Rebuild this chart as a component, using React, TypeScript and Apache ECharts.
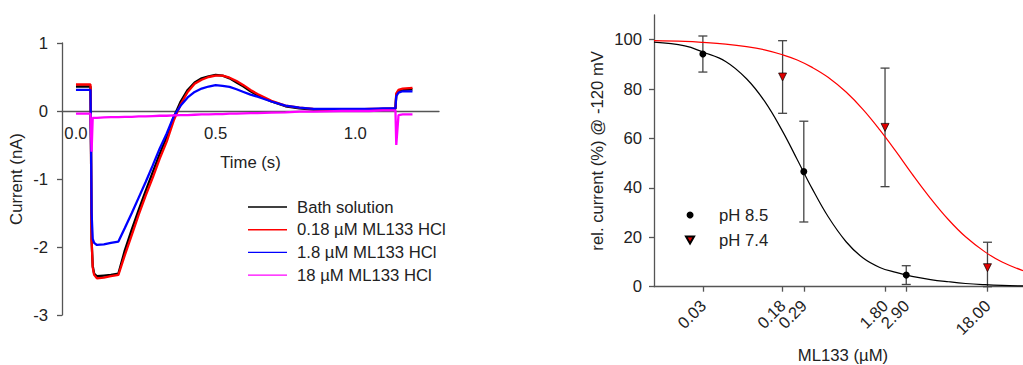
import React, { useEffect, useRef } from 'react';
import * as echarts from 'echarts';

// ---------- Left panel: current traces ----------
const timeS = [0, 0.052, 0.054, 0.056, 0.06, 0.065, 0.075, 0.1, 0.125, 0.152, 0.175, 0.2, 0.225, 0.25, 0.275, 0.3, 0.325, 0.35, 0.375, 0.4, 0.425, 0.45, 0.475, 0.5, 0.525, 0.55, 0.575, 0.6, 0.625, 0.65, 0.7, 0.75, 0.8, 0.85, 0.9, 0.95, 1.0, 1.05, 1.1, 1.144, 1.147, 1.155, 1.17, 1.205];
const bathSolution = [0.36, 0.36, -0.6, -1.9, -2.28, -2.39, -2.43, -2.42, -2.41, -2.39, -2.05, -1.74, -1.45, -1.17, -0.9, -0.63, -0.38, -0.09, 0.14, 0.31, 0.42, 0.48, 0.51, 0.53, 0.52, 0.48, 0.42, 0.36, 0.29, 0.23, 0.14, 0.07, 0.04, 0.02, 0.02, 0.02, 0.02, 0.02, 0.03, 0.03, 0.24, 0.29, 0.31, 0.32];
const ml133_018uM = [0.39, 0.39, -0.6, -1.9, -2.3, -2.41, -2.46, -2.45, -2.43, -2.41, -2.12, -1.82, -1.52, -1.24, -0.98, -0.7, -0.45, -0.14, 0.1, 0.28, 0.4, 0.46, 0.5, 0.52, 0.52, 0.49, 0.44, 0.38, 0.31, 0.25, 0.15, 0.08, 0.05, 0.03, 0.02, 0.02, 0.02, 0.03, 0.03, 0.04, 0.26, 0.31, 0.33, 0.34];
const ml133_1_8uM = [0.31, 0.31, -0.5, -1.5, -1.88, -1.94, -1.97, -1.96, -1.94, -1.92, -1.72, -1.5, -1.27, -1.04, -0.8, -0.55, -0.33, -0.08, 0.08, 0.2, 0.28, 0.33, 0.36, 0.38, 0.37, 0.355, 0.32, 0.28, 0.24, 0.21, 0.14, 0.08, 0.05, 0.03, 0.03, 0.03, 0.03, 0.03, 0.04, 0.04, 0.22, 0.27, 0.29, 0.29];
const ml133_18uM = [-0.04, -0.04, -0.3, -0.6, -0.1, -0.1, -0.1, -0.095, -0.09, -0.09, -0.085, -0.085, -0.08, -0.08, -0.075, -0.07, -0.07, -0.065, -0.06, -0.06, -0.055, -0.05, -0.05, -0.045, -0.045, -0.04, -0.04, -0.035, -0.03, -0.03, -0.025, -0.02, -0.01, -0.01, -0.005, 0, 0, 0, 0.01, 0.01, -0.5, -0.06, -0.05, -0.05];
const traceNames = ['Bath solution', '0.18 µM ML133 HCl', '1.8 µM ML133 HCl', '18 µM ML133 HCl'];
const traceColors = ['#000000', '#ff0000', '#0000ff', '#ff00ff'];
const traceValues = [bathSolution, ml133_018uM, ml133_1_8uM, ml133_18uM];
const timeTicks = [0, 0.5, 1.0];

// ---------- Right panel: dose response ----------
const concTicks = [0.03, 0.18, 0.29, 1.8, 2.9, 18];
const relTicks = [0, 20, 40, 60, 80, 100];

const ph85Conc = [0.03, 0.29, 2.9];
const ph85Mean = [94.2, 46.6, 4.7];
const ph85Low = [86.9, 26.2, 0.9];
const ph85High = [101.5, 67.0, 8.5];

const ph74Conc = [0.18, 1.8, 18];
const ph74Mean = [84.9, 64.5, 7.7];
const ph74Low = [70.2, 40.5, 0];
const ph74High = [99.6, 88.5, 18.0];

const fitConc = [0.01, 0.02, 0.03, 0.05, 0.08, 0.12, 0.18, 0.25, 0.35, 0.5, 0.75, 1.1, 1.6, 2.3, 3.3, 5, 7.5, 11, 17, 25, 40];
const fitPh85 = [99.0, 97.5, 95.0, 91.2, 84.2, 75.1, 62.9, 51.5, 39.7, 28.4, 18.2, 11.6, 7.8, 5.8, 4.2, 2.9, 2.0, 1.3, 0.8, 0.5, 0.3];
const fitPh74 = [99.6, 99.3, 98.9, 98.2, 97.2, 95.9, 93.9, 91.8, 88.8, 84.8, 78.8, 71.7, 63.5, 54.8, 45.7, 35.8, 27.1, 20.2, 14.1, 10.0, 6.5];

const FONT = "'Liberation Sans', Arial, Helvetica, sans-serif";
const FS = 16.7;
const TXT = '#222';
const AX = '#555';

const lg = (c: number) => Math.log10(c);

function errorBarSeries(conc: number[], low: number[], high: number[]) {
  return {
    type: 'custom',
    xAxisIndex: 1,
    yAxisIndex: 1,
    z: 2,
    silent: true,
    encode: { x: 0, y: [1, 2] },
    data: conc.map((c, i) => [lg(c), low[i], high[i]]),
    renderItem: (_p: any, api: any) => {
      const x = api.value(0);
      const lo = api.coord([x, api.value(1)]);
      const hi = api.coord([x, api.value(2)]);
      const w = 4.5;
      const style = { stroke: '#444', lineWidth: 1.3, fill: 'none' };
      return {
        type: 'group',
        children: [
          { type: 'line', shape: { x1: lo[0], y1: lo[1], x2: hi[0], y2: hi[1] }, style },
          { type: 'line', shape: { x1: lo[0] - w, y1: lo[1], x2: lo[0] + w, y2: lo[1] }, style },
          { type: 'line', shape: { x1: hi[0] - w, y1: hi[1], x2: hi[0] + w, y2: hi[1] }, style },
        ],
      };
    },
  };
}

export default function App() {
  const ref = useRef<HTMLDivElement>(null);
  useEffect(() => {
    const chart = echarts.init(ref.current!, null, { renderer: 'svg' });
    const option: any = {
      animation: false,
      textStyle: { fontFamily: FONT, color: TXT },
      grid: [
        { left: 62, top: 43, width: 377, height: 272, outerBoundsMode: 'none', containLabel: false },
        { left: 654, top: 15, width: 369, height: 271.7, outerBoundsMode: 'none', containLabel: false },
      ],
      xAxis: [
        {
          gridIndex: 0,
          type: 'value',
          min: -0.05,
          max: 1.3,
          position: 'bottom',
          offset: -204,
          splitLine: { show: false },
          axisLine: { show: true, onZero: false, lineStyle: { color: AX, width: 1.3 } },
          axisTick: { show: false },
          axisLabel: {
            customValues: timeTicks,
            formatter: (v: number) => v.toFixed(1),
            fontSize: FS,
            color: TXT,
            margin: 14,
          },
          name: 'Time (s)',
          nameLocation: 'middle',
          nameGap: 43,
          nameMoveOverlap: false,
          nameTextStyle: { fontSize: FS, color: TXT },
        },
        {
          gridIndex: 1,
          type: 'value',
          min: -2,
          max: lg(40),
          splitLine: { show: false },
          axisLine: { show: true, onZero: false, lineStyle: { color: AX, width: 1.3 } },
          axisTick: { show: true, customValues: concTicks.map((c) => lg(c)), length: 5, lineStyle: { color: AX, width: 1.3 } },
          axisLabel: {
            customValues: concTicks.map((c) => lg(c)),
            formatter: (v: number) => Math.pow(10, v).toFixed(2),
            rotate: 45,
            margin: 16,
            fontSize: 16.5,
            color: TXT,
          },
          name: 'ML133 (µM)',
          nameLocation: 'middle',
          nameGap: 60,
          nameMoveOverlap: false,
          nameTextStyle: { fontSize: FS, color: TXT, padding: [0, 0, 0, 9] },
        },
      ],
      yAxis: [
        {
          gridIndex: 0,
          type: 'value',
          min: -3,
          max: 1,
          interval: 1,
          splitLine: { show: false },
          axisLine: { show: true, onZero: false, lineStyle: { color: AX, width: 1.3 } },
          axisTick: { show: true, length: 5, lineStyle: { color: AX, width: 1.3 } },
          axisLabel: { fontSize: FS, color: TXT, margin: 14 },
          name: 'Current (nA)',
          nameLocation: 'middle',
          nameGap: 37,
          nameMoveOverlap: false,
          nameTextStyle: { fontSize: FS, color: TXT },
        },
        {
          gridIndex: 1,
          type: 'value',
          min: 0,
          max: 110,
          splitLine: { show: false },
          axisLine: { show: true, onZero: false, lineStyle: { color: AX, width: 1.3 } },
          axisTick: { show: true, customValues: relTicks, length: 5, lineStyle: { color: AX, width: 1.3 } },
          axisLabel: { customValues: relTicks, fontSize: FS, color: TXT, margin: 12 },
          name: 'rel. current (%) @ -120 mV',
          nameLocation: 'middle',
          nameGap: 48,
          nameMoveOverlap: false,
          nameTextStyle: { fontSize: FS, color: TXT },
        },
      ],
      legend: [
        {
          data: traceNames.map((name) => ({ name, icon: 'rect' })),
          orient: 'vertical',
          left: 243,
          top: 193,
          itemWidth: 39,
          itemHeight: 1.4,
          itemGap: 4.7,
          textStyle: { fontSize: FS, color: TXT, lineHeight: 18, padding: [0, 0, 0, 5] },
        },
        {
          data: [
            { name: 'pH 8.5', icon: 'circle' },
            { name: 'pH 7.4', icon: 'path://M0,0L10,0L5,8.66Z' },
          ],
          orient: 'vertical',
          left: 680,
          top: 201,
          itemWidth: 48,
          itemHeight: 7,
          itemGap: 7,
          symbolKeepAspect: true,
          textStyle: { fontSize: FS, color: TXT, lineHeight: 18 },
        },
      ],
      series: [
        ...traceNames.map((name, k) => ({
          name,
          type: 'line',
          xAxisIndex: 0,
          yAxisIndex: 0,
          symbol: 'none',
          showSymbol: false,
          z: 2 + k,
          lineStyle: { color: traceColors[k], width: 2.3 },
          itemStyle: { color: traceColors[k] },
          data: timeS.map((t, i) => [t, traceValues[k][i]]),
        })),
        errorBarSeries(ph85Conc, ph85Low, ph85High),
        errorBarSeries(ph74Conc, ph74Low, ph74High),
        {
          name: 'fit pH 8.5',
          type: 'line',
          xAxisIndex: 1,
          yAxisIndex: 1,
          symbol: 'none',
          smooth: 0.4,
          z: 3,
          lineStyle: { color: '#000', width: 1.2 },
          data: fitConc.map((c, i) => [lg(c), fitPh85[i]]),
        },
        {
          name: 'fit pH 7.4',
          type: 'line',
          xAxisIndex: 1,
          yAxisIndex: 1,
          symbol: 'none',
          smooth: 0.4,
          z: 3,
          lineStyle: { color: '#ff0000', width: 1.2 },
          data: fitConc.map((c, i) => [lg(c), fitPh74[i]]),
        },
        {
          name: 'pH 8.5',
          type: 'scatter',
          xAxisIndex: 1,
          yAxisIndex: 1,
          symbol: 'circle',
          symbolSize: 7,
          z: 5,
          itemStyle: { color: '#000', opacity: 1 },
          data: ph85Conc.map((c, i) => [lg(c), ph85Mean[i]]),
        },
        {
          name: 'pH 7.4',
          type: 'scatter',
          xAxisIndex: 1,
          yAxisIndex: 1,
          symbol: 'triangle',
          symbolRotate: 180,
          symbolSize: 8,
          z: 5,
          itemStyle: { color: '#e00000', borderColor: '#000', borderWidth: 0.7, opacity: 1 },
          data: ph74Conc.map((c, i) => [lg(c), ph74Mean[i]]),
        },
      ],
    };
    chart.setOption(option);
    return () => chart.dispose();
  }, []);
  return <div ref={ref} style={{ position: 'absolute', left: 0, top: 0, width: 1023, height: 365 }} />;
}
